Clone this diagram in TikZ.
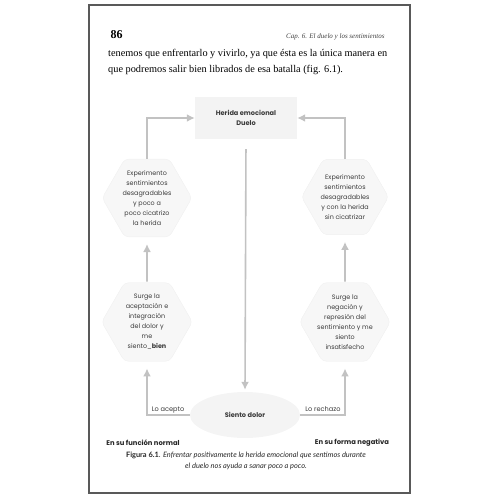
\documentclass[tikz,border=0pt]{standalone}
\usepackage{fontspec}
\setmainfont{Liberation Serif}
\newfontfamily\diagfont{Poppins}
\newfontfamily\capfont{Lato}
\usetikzlibrary{shapes.geometric,arrows.meta}
\definecolor{linegray}{HTML}{C2C2C2}
\definecolor{boxgray}{HTML}{F3F3F3}
\definecolor{textgray}{HTML}{3A3A3A}
\tikzset{
  hexbox/.style={regular polygon, regular polygon sides=6, minimum size=87pt,
    inner sep=0pt, fill=boxgray!70, draw=gray!12, rounded corners=4pt,
    font=\diagfont\fontsize{6.4}{10}\selectfont, text=textgray, align=center},
  flow/.style={draw=linegray, line width=1.6pt},
  lbl/.style={font=\diagfont\fontsize{6.6}{8}\selectfont, text=textgray},
}
\begin{document}
\begin{tikzpicture}[x=1pt,y=-1pt,>={Latex[length=8pt,width=8pt]}]
\useasboundingbox (0,0) rectangle (500,500);
% page
\draw[black!65, line width=1.3pt] (89,5) rectangle (410,493);
\node (pg) [anchor=base west, font=\bfseries\fontsize{12}{14}\selectfont] at (107,39) {86};
\node (hd) [anchor=base east, font=\itshape\fontsize{7}{8}\selectfont, text=black!75] at (388,39)
  {Cap. 6. El duelo y los sentimientos};
\node (l1) [anchor=base west, inner sep=0pt, font=\fontsize{10.3}{12}\selectfont] at (108,57)
  {\makebox[279pt][s]{tenemos que enfrentarlo y vivirlo, ya que ésta es la única manera en}};
\node (l2) [anchor=base west, inner sep=0pt, font=\fontsize{10.3}{12}\selectfont] at (108,73)
  {que podremos salir bien librados de esa batalla (fig. 6.1).};
% diagram
\node (herida) [fill=boxgray, minimum width=102pt, minimum height=42pt, align=center,
  font=\diagfont\bfseries\fontsize{6.6}{10}\selectfont, text=textgray] at (246,118)
  {Herida emocional\\Duelo};
\node (hl1) [hexbox] at (147,198)
  {Experimento\\sentimientos\\desagradables\\y poco a\\poco cicatrizo\\la herida};
\node (hr1) [hexbox] at (345,197)
  {Experimento\\sentimientos\\desagradables\\y con la herida\\sin cicatrizar};
\node (hl2) [hexbox] at (147,322)
  {Surge la\\aceptación e\\integración\\del dolor y\\me\\siento\_\textbf{bien}};
\node (hr2) [hexbox] at (345,322)
  {Surge la\\negación y\\represión del\\sentimiento y me\\siento\\insatisfecho};
\node (dolor) [ellipse, fill=gray!9, minimum width=110pt, minimum height=46pt,
  font=\diagfont\bfseries\fontsize{6.6}{8}\selectfont, text=textgray] at (245,415) {Siento dolor};
% connectors
\draw[flow,->] (hl1.north) |- (herida.west);
\draw[flow,->] (hr1.north) |- (herida.east);
\draw[flow,->, shorten <=10pt, shorten >=2pt] (herida.south) -- (dolor.north);
\draw[flow,->, shorten <=1pt, shorten >=7pt] (hl2.north) -- (hl1.south);
\draw[flow,->, shorten <=1pt, shorten >=7pt] (hr2.north) -- (hr1.south);
\draw[flow,->, shorten >=7pt] (dolor.west) -| (hl2.south);
\draw[flow,->, shorten >=7pt] (dolor.east) -| (hr2.south);
\node (acepto) [lbl, anchor=base] at (168,411) {Lo acepto};
\node (rechazo) [lbl, anchor=base] at (323,411) {Lo rechazo};
\node (normal) [lbl, font=\diagfont\bfseries\fontsize{6.8}{8}\selectfont, text=black!85] at (143,443)
  {En su función normal};
\node (negativa) [lbl, font=\diagfont\bfseries\fontsize{6.8}{8}\selectfont, text=black!85] at (352,443)
  {En su forma negativa};
% caption
\node (cap) [align=center, font=\capfont\fontsize{7.4}{10.5}\selectfont, text=black!85] at (246,461)
  {\textbf{Figura 6.1}. \textit{Enfrentar positivamente la herida emocional que sentimos durante}\\
   \textit{el duelo nos ayuda a sanar poco a poco.}};
\end{tikzpicture}
\end{document}
